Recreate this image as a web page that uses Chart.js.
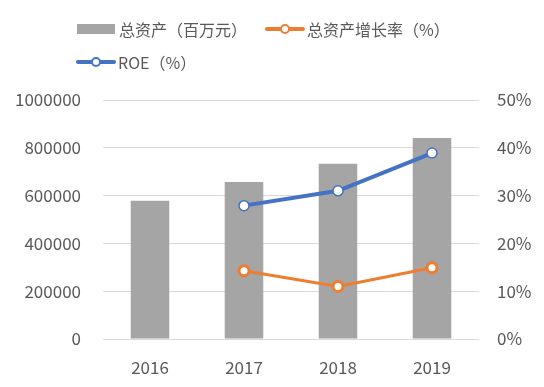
<!DOCTYPE html>
<html>
<head>
<meta charset="utf-8">
<script src="https://cdn.jsdelivr.net/npm/chart.js@4"></script>
<style>
  html, body { margin: 0; padding: 0; background: #fff; }
  #wrap { position: relative; width: 544px; height: 387px; }
  #legend { position: absolute; left: 0; top: 0; width: 544px; font-family: "Noto Sans CJK SC", sans-serif; font-size: 16px; color: #595959; }
  .item { position: absolute; display: flex; align-items: center; height: 20px; white-space: nowrap; }
  .key { position: relative; width: 40px; height: 20px; margin-right: 2px; }
  .box { position: absolute; left: 0; top: 5px; width: 38px; height: 10px; background: #A5A5A5; }
  .line { position: absolute; left: 0; top: 8px; width: 40px; border-radius: 2px; }
  .dot { position: absolute; left: 15px; top: 5px; width: 6px; height: 6px; border-radius: 50%; background: #fff; }
</style>
</head>
<body>
<div id="wrap">
  <canvas id="chart" width="544" height="387"></canvas>
  <div id="legend"></div>
</div>
<script>
var years = ['2016', '2017', '2018', '2019'];
var totalAssets = [578000, 657000, 733000, 841000];
var assetGrowth = [null, 14.3, 11.0, 14.9];
var roe = [null, 27.9, 31.0, 38.9];

var seriesNames = ['总资产（百万元）', '总资产增长率（%）', 'ROE（%）'];
var gray = '#A5A5A5';
var orange = '#ED7D31';
var blue = '#4472C4';
var textColor = '#595959';
var fontFamily = '"Noto Sans CJK SC", sans-serif';

// legend built by hand so the line keys can show the marker
var legend = document.getElementById('legend');
function addItem(name, left, top, type, color) {
    var item = document.createElement('div');
    item.className = 'item';
    item.style.left = left + 'px';
    item.style.top = top + 'px';
    var key = document.createElement('div');
    key.className = 'key';
    if (type === 'box') {
        var b = document.createElement('div');
        b.className = 'box';
        key.appendChild(b);
    } else {
        var l = document.createElement('div');
        l.className = 'line';
        l.style.height = '4px';
        l.style.background = color;
        key.appendChild(l);
        var d = document.createElement('div');
        d.className = 'dot';
        d.style.border = '2px solid ' + color;
        key.appendChild(d);
    }
    item.appendChild(key);
    var t = document.createElement('span');
    t.textContent = name;
    item.appendChild(t);
    legend.appendChild(item);
}
addItem(seriesNames[0], 77, 19, 'box', gray);
addItem(seriesNames[1], 265, 19, 'line', orange);
addItem(seriesNames[2], 76, 52, 'line', blue);

var ctx = document.getElementById('chart').getContext('2d');
new Chart(ctx, {
    data: {
        labels: years,
        datasets: [{
            type: 'bar',
            label: seriesNames[0],
            data: totalAssets,
            backgroundColor: gray,
            yAxisID: 'y',
            order: 3,
            categoryPercentage: 1,
            barPercentage: 0.41
        }, {
            type: 'line',
            label: seriesNames[1],
            data: assetGrowth,
            borderColor: orange,
            borderWidth: 3,
            pointBackgroundColor: '#fff',
            pointBorderColor: orange,
            pointBorderWidth: 3,
            pointRadius: 5,
            yAxisID: 'y1',
            order: 2
        }, {
            type: 'line',
            label: seriesNames[2],
            data: roe,
            borderColor: blue,
            borderWidth: 4,
            pointBackgroundColor: '#fff',
            pointBorderColor: blue,
            pointBorderWidth: 1.5,
            pointRadius: 5,
            yAxisID: 'y1',
            order: 1
        }]
    },
    options: {
        responsive: false,
        animation: false,
        layout: { padding: { top: 100, left: 0, right: 0, bottom: 0 } },
        plugins: {
            legend: { display: false },
            tooltip: { enabled: false }
        },
        scales: {
            x: {
                grid: { display: false },
                border: { display: false },
                ticks: { color: textColor, font: { family: fontFamily, size: 17 }, padding: 10 },
                afterFit: function (axis) { axis.height = 48; }
            },
            y: {
                position: 'left',
                min: 0,
                max: 1000000,
                ticks: {
                    stepSize: 200000,
                    color: textColor,
                    font: { family: fontFamily, size: 17 },
                    padding: 22,
                    callback: function (v) { return String(v); }
                },
                grid: { color: '#D9D9D9', drawTicks: false },
                border: { display: false },
                afterFit: function (axis) { axis.width = 103; }
            },
            y1: {
                position: 'right',
                min: 0,
                max: 50,
                ticks: {
                    stepSize: 10,
                    color: textColor,
                    font: { family: fontFamily, size: 17 },
                    padding: 18,
                    callback: function (v) { return v + '%'; }
                },
                grid: { display: false, drawTicks: false },
                border: { display: false },
                afterFit: function (axis) { axis.width = 65; }
            }
        }
    }
});
</script>
</body>
</html>
